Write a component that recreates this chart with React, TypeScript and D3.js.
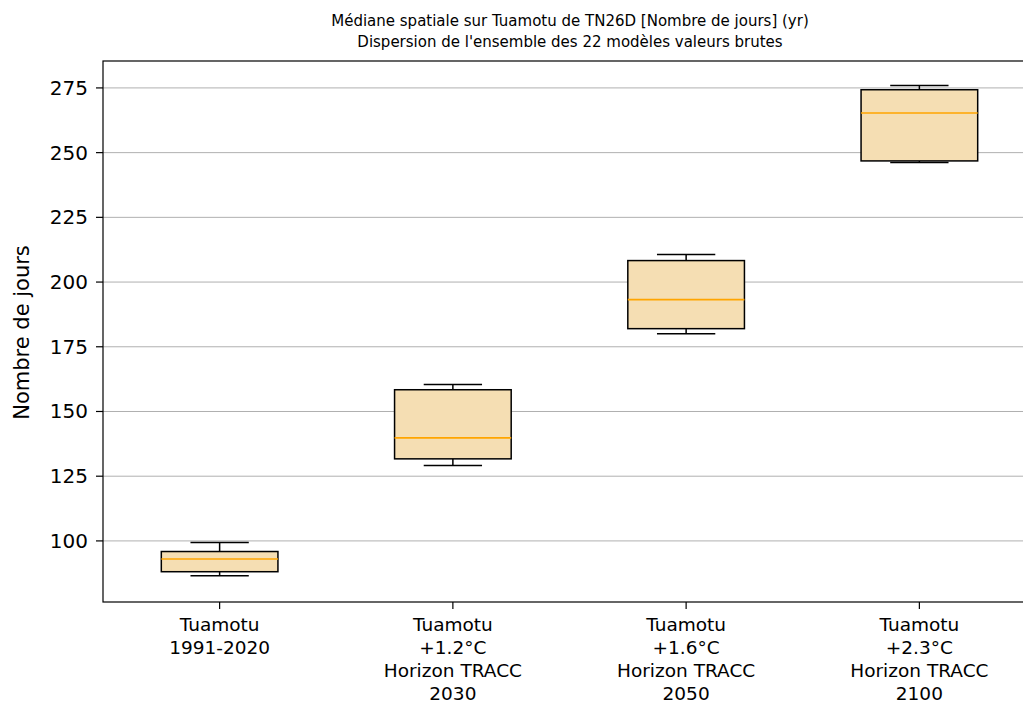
import React from "react";
import * as d3 from "d3";

// one entry per box
const categories = [
  ["Tuamotu", "1991-2020"],
  ["Tuamotu", "+1.2°C", "Horizon TRACC", "2030"],
  ["Tuamotu", "+1.6°C", "Horizon TRACC", "2050"],
  ["Tuamotu", "+2.3°C", "Horizon TRACC", "2100"],
];
const whiskerLow = [86.5, 129.1, 180.0, 246.2];
const q1 = [88.1, 131.7, 182.0, 246.8];
const medians = [93.0, 139.8, 193.2, 265.3];
const q3 = [95.9, 158.4, 208.3, 274.3];
const whiskerHigh = [99.4, 160.4, 210.6, 275.9];
const yTicks = [100, 125, 150, 175, 200, 225, 250, 275];

const W = 1023;
const H = 704;
const left = 103;
const right = 1036;
const top = 61;
const bottom = 602;
const font = "DejaVu Sans, sans-serif";

export default function App() {
  const x = d3.scaleLinear().domain([0.5, 4.5]).range([left, right]);
  const y = d3.scaleLinear().domain([76.4, 285.4]).range([bottom, top]);
  const boxW = x(1.5) - x(1);
  const capW = boxW / 2;

  return (
    <svg
      width={W}
      height={H}
      style={{ position: "absolute", left: 0, top: 0, background: "#fff" }}
    >
      <text x={570} y={25.5} fontSize={15} fontFamily={font} textAnchor="middle" fill="#000">
        Médiane spatiale sur Tuamotu de TN26D [Nombre de jours] (yr)
      </text>
      <text x={570} y={46.5} fontSize={15} fontFamily={font} textAnchor="middle" fill="#000">
        Dispersion de l'ensemble des 22 modèles valeurs brutes
      </text>

      {/* grid */}
      {yTicks.map((t) => (
        <line key={"g" + t} x1={left} x2={right} y1={y(t)} y2={y(t)} stroke="#b0b0b0" strokeWidth={1} />
      ))}

      {/* boxes */}
      {categories.map((c, i) => {
        const cx = x(i + 1);
        return (
          <g key={"b" + i}>
            <line x1={cx} x2={cx} y1={y(whiskerLow[i])} y2={y(q1[i])} stroke="#000" strokeWidth={1.5} />
            <line x1={cx} x2={cx} y1={y(q3[i])} y2={y(whiskerHigh[i])} stroke="#000" strokeWidth={1.5} />
            <line x1={cx - capW / 2} x2={cx + capW / 2} y1={y(whiskerLow[i])} y2={y(whiskerLow[i])} stroke="#000" strokeWidth={1.5} />
            <line x1={cx - capW / 2} x2={cx + capW / 2} y1={y(whiskerHigh[i])} y2={y(whiskerHigh[i])} stroke="#000" strokeWidth={1.5} />
            <rect
              x={cx - boxW / 2}
              y={y(q3[i])}
              width={boxW}
              height={y(q1[i]) - y(q3[i])}
              fill="#f5deb3"
              stroke="#000"
              strokeWidth={1.5}
            />
            <line x1={cx - boxW / 2} x2={cx + boxW / 2} y1={y(medians[i])} y2={y(medians[i])} stroke="#ffa500" strokeWidth={1.6} />
          </g>
        );
      })}

      {/* spines */}
      <rect x={left} y={top} width={right - left} height={bottom - top} fill="none" stroke="#000" strokeWidth={1.2} />

      {/* y axis */}
      {yTicks.map((t) => (
        <g key={"y" + t}>
          <line x1={left - 7} x2={left} y1={y(t)} y2={y(t)} stroke="#000" strokeWidth={1.2} />
          <text x={left - 15} y={y(t) + 7} fontSize={20} fontFamily={font} textAnchor="end" fill="#000">
            {t}
          </text>
        </g>
      ))}
      <text
        transform={`translate(29,${(240 + 425) / 2}) rotate(-90)`}
        fontSize={21}
        fontFamily={font}
        textAnchor="middle"
        fill="#000"
      >
        Nombre de jours
      </text>

      {/* x axis */}
      {categories.map((c, i) => (
        <g key={"x" + i}>
          <line x1={x(i + 1)} x2={x(i + 1)} y1={bottom} y2={bottom + 7} stroke="#000" strokeWidth={1.2} />
          {c.map((s, j) => (
            <text key={j} x={x(i + 1)} y={631 + j * 23} fontSize={18.5} fontFamily={font} textAnchor="middle" fill="#000">
              {s}
            </text>
          ))}
        </g>
      ))}
    </svg>
  );
}
